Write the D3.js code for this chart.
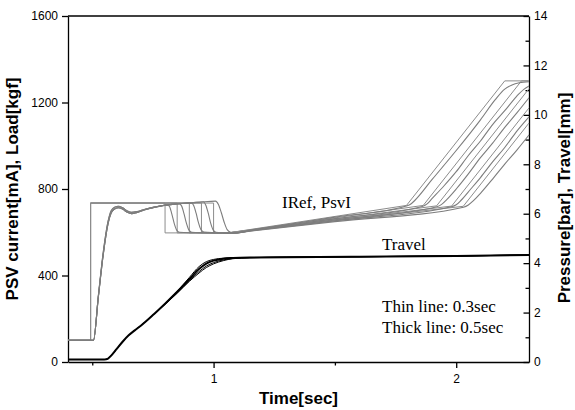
<!DOCTYPE html>
<html>
<head>
<meta charset="utf-8">
<script src="https://cdn.jsdelivr.net/npm/d3@7"></script>
<style>
body { margin: 0; background: #fff; }
svg { display: block; }
.axis text { font-family: "Liberation Sans", Arial, sans-serif; font-size: 12px; fill: #000; }
.axis path, .axis line { stroke: #000; stroke-width: 1.3px; }
.note { font-family: "Liberation Serif", "Times New Roman", serif; font-size: 17px; fill: #000; }
.title { font-family: "Liberation Sans", Arial, sans-serif; font-weight: bold; font-size: 17px; fill: #000; }
</style>
</head>
<body>
<svg id="chart" width="575" height="410"></svg>
<script>
// reference current IRef per run [time(sec), mA]
var iref1 = [[0.4,100],[0.493,100],[0.493,735],[0.80,735],[0.80,597],[1.06,597],[1.795,724],[2.20,1300],[2.3,1300]];
var iref2 = [[0.4,100],[0.493,100],[0.493,735],[0.85,735],[0.85,597],[1.06,597],[1.864,724],[2.269,1300],[2.3,1300]];
var iref3 = [[0.4,100],[0.493,100],[0.493,735],[0.90,735],[0.90,597],[1.06,597],[1.919,722],[2.3,1264]];
var iref4 = [[0.4,100],[0.493,100],[0.493,735],[0.95,735],[0.95,597],[1.06,597],[1.981,721],[2.3,1175]];
var iref5 = [[0.4,100],[0.493,100],[0.493,735],[1.00,735],[1.00,597],[1.06,597],[2.029,720],[2.3,1105]];

// measured PSV current PsvI per run
var psv1 = [[0.4,100],[0.505,100],[0.525,300],[0.545,495],[0.565,640],[0.578,690],[0.592,708],[0.608,713],[0.625,707],[0.645,692],[0.662,686],[0.685,692],[0.71,702],[0.75,714],[0.79,723],[0.808,727],
  [0.818,720],[0.828,684],[0.838,640],[0.848,610],[0.86,600],[0.9,598],[1.0,597],[1.08,596],[1.15,609],[1.5,670],[1.79,720],[1.81,728],[1.83,748],[1.9,843],[2.0,978],[2.1,1120],[2.16,1212],[2.2,1262],[2.23,1281],[2.26,1291],[2.3,1296]];
var psv2 = [[0.4,100],[0.505,100],[0.525,305],[0.545,505],[0.565,650],[0.578,700],[0.592,716],[0.608,720],[0.625,713],[0.645,698],[0.662,692],[0.685,696],[0.71,704],[0.75,715],[0.79,724],[0.83,729],[0.858,732],
  [0.868,722],[0.878,686],[0.888,642],[0.898,611],[0.91,600],[0.95,598],[1.08,596],[1.15,608],[1.5,663],[1.86,719],[1.88,731],[1.90,755],[1.95,815],[2.0,880],[2.05,955],[2.1,1022],[2.15,1098],[2.2,1162],[2.25,1230],[2.28,1262],[2.3,1276]];
var psv3 = [[0.4,100],[0.505,100],[0.525,300],[0.545,495],[0.565,640],[0.578,690],[0.592,708],[0.608,713],[0.625,707],[0.645,692],[0.662,686],[0.685,692],[0.71,702],[0.75,714],[0.79,723],[0.83,729],[0.87,733],[0.908,736],
  [0.918,724],[0.928,688],[0.938,643],[0.948,612],[0.96,601],[1.0,598],[1.08,596],[1.15,607],[1.5,658],[1.92,718],[1.94,729],[1.96,750],[2.0,800],[2.05,870],[2.1,945],[2.15,1012],[2.2,1085],[2.25,1152],[2.3,1222]];
var psv4 = [[0.4,100],[0.505,100],[0.525,305],[0.545,505],[0.565,650],[0.578,700],[0.592,716],[0.608,720],[0.625,713],[0.645,698],[0.662,692],[0.685,696],[0.71,704],[0.75,715],[0.79,724],[0.83,729],[0.87,733],[0.91,736],[0.958,741],
  [0.968,725],[0.978,688],[0.988,642],[0.998,611],[1.01,600],[1.05,598],[1.08,596],[1.15,606],[1.5,653],[1.98,718],[2.0,727],[2.02,748],[2.06,800],[2.1,853],[2.15,925],[2.2,992],[2.25,1068],[2.3,1134]];
var psv5 = [[0.4,100],[0.505,100],[0.525,300],[0.545,495],[0.565,640],[0.578,690],[0.592,708],[0.608,713],[0.625,707],[0.645,692],[0.662,686],[0.685,692],[0.71,702],[0.75,714],[0.79,723],[0.83,729],[0.87,733],[0.91,736],[0.95,740],[1.008,744],
  [1.02,728],[1.032,690],[1.044,645],[1.056,612],[1.07,600],[1.09,597],[1.15,605],[1.5,649],[2.03,716],[2.05,726],[2.07,745],[2.1,780],[2.15,846],[2.2,915],[2.25,980],[2.3,1050]];

// travel [time(sec), mm]
var travelThick = [[0.4,0.1],[0.55,0.1],[0.565,0.14],[0.58,0.28],[0.60,0.52],[0.625,0.82],[0.65,1.08],[0.675,1.28],[0.70,1.47],[0.75,1.9],[0.80,2.36],[0.85,2.84],[0.90,3.35],[0.94,3.76],[0.97,3.98],[1.0,4.1],[1.04,4.18],[1.08,4.21],[1.15,4.23],[1.3,4.24],[1.6,4.26],[2.0,4.29],[2.3,4.33]];
var travelThin1 = [[0.4,0.1],[0.55,0.1],[0.565,0.14],[0.58,0.28],[0.60,0.52],[0.625,0.82],[0.65,1.08],[0.675,1.28],[0.70,1.47],[0.75,1.9],[0.80,2.36],[0.85,2.86],[0.90,3.42],[0.94,3.86],[0.97,4.06],[1.0,4.15],[1.04,4.2],[1.1,4.22],[1.3,4.24],[1.6,4.26],[2.0,4.29],[2.3,4.33]];
var travelThin2 = [[0.4,0.1],[0.55,0.1],[0.565,0.14],[0.58,0.28],[0.60,0.52],[0.625,0.82],[0.65,1.08],[0.675,1.28],[0.70,1.47],[0.75,1.9],[0.80,2.34],[0.85,2.8],[0.90,3.3],[0.94,3.66],[0.97,3.88],[1.0,4.02],[1.04,4.13],[1.08,4.19],[1.15,4.22],[1.3,4.24],[1.6,4.26],[2.0,4.29],[2.3,4.33]];
var travelThin3 = [[0.4,0.1],[0.55,0.1],[0.565,0.14],[0.58,0.28],[0.60,0.52],[0.625,0.82],[0.65,1.08],[0.675,1.28],[0.70,1.47],[0.75,1.9],[0.80,2.33],[0.85,2.78],[0.90,3.26],[0.94,3.6],[0.97,3.82],[1.0,3.97],[1.04,4.1],[1.08,4.18],[1.15,4.22],[1.3,4.24],[1.6,4.26],[2.0,4.29],[2.3,4.33]];

var leftTicks = [0, 400, 800, 1200, 1600];
var rightTicks = [0, 2, 4, 6, 8, 10, 12, 14];
var rightMinor = [1, 3, 5, 7, 9, 11, 13];
var timeTicks = [1, 2];
var timeMinor = [0.5, 1.5];

var plotLeft = 68, plotRight = 529, plotTop = 16, plotBottom = 362;

var svg = d3.select("#chart");

var x = d3.scaleLinear().domain([0.4, 2.3]).range([plotLeft, plotRight]);
var yLeft = d3.scaleLinear().domain([0, 1600]).range([plotBottom, plotTop]);
var yRight = d3.scaleLinear().domain([0, 14]).range([plotBottom, plotTop]);

// frame top line
svg.append("line")
    .attr("x1", plotLeft).attr("x2", plotRight)
    .attr("y1", plotTop).attr("y2", plotTop)
    .attr("stroke", "#000").attr("stroke-width", 1.3);

// axes
svg.append("g").attr("class", "axis")
    .attr("transform", "translate(" + plotLeft + ",0)")
    .call(d3.axisLeft(yLeft).tickValues(leftTicks).tickSize(6).tickSizeOuter(0).tickPadding(4).tickFormat(d3.format("d")));

svg.append("g").attr("class", "axis")
    .attr("transform", "translate(0," + plotBottom + ")")
    .call(d3.axisBottom(x).tickValues(timeTicks).tickSize(6).tickSizeOuter(0).tickPadding(6).tickFormat(d3.format("d")));
svg.append("g").attr("class", "axis")
    .attr("transform", "translate(0," + plotBottom + ")")
    .call(d3.axisBottom(x).tickValues(timeMinor).tickSize(3.5).tickSizeOuter(0).tickFormat(""))
    .select(".domain").remove();

svg.append("g").attr("class", "axis")
    .attr("transform", "translate(" + plotRight + ",0)")
    .call(d3.axisRight(yRight).tickValues(rightTicks).tickSize(-5.5).tickSizeOuter(0).tickPadding(5));
svg.append("g").attr("class", "axis")
    .attr("transform", "translate(" + plotRight + ",0)")
    .call(d3.axisRight(yRight).tickValues(rightMinor).tickSize(-3.5).tickSizeOuter(0).tickFormat(""))
    .select(".domain").remove();

// curves
var lineL = d3.line().x(d => x(d[0])).y(d => yLeft(d[1]));
var curveL = d3.line().curve(d3.curveMonotoneX).x(d => x(d[0])).y(d => yLeft(d[1]));
var curveR = d3.line().curve(d3.curveMonotoneX).x(d => x(d[0])).y(d => yRight(d[1]));

[iref1, iref2, iref3, iref4, iref5].forEach(function (s) {
    svg.append("path").attr("d", lineL(s))
        .attr("fill", "none").attr("stroke", "#8c8c8c").attr("stroke-width", 1);
});
[psv1, psv2, psv3, psv4, psv5].forEach(function (s) {
    svg.append("path").attr("d", curveL(s))
        .attr("fill", "none").attr("stroke", "#7d7d7d").attr("stroke-width", 1.1);
});

[travelThin1, travelThin2, travelThin3].forEach(function (s) {
    svg.append("path").attr("d", curveR(s))
        .attr("fill", "none").attr("stroke", "#000").attr("stroke-width", 1);
});
svg.append("path").attr("d", curveR(travelThick))
    .attr("fill", "none").attr("stroke", "#000").attr("stroke-width", 2);

// notes
svg.append("text").attr("class", "note").attr("x", 282).attr("y", 208).text("IRef, PsvI");
svg.append("text").attr("class", "note").attr("x", 382).attr("y", 250).text("Travel");
svg.append("text").attr("class", "note").attr("x", 382).attr("y", 312).text("Thin line: 0.3sec");
svg.append("text").attr("class", "note").attr("x", 382).attr("y", 333).text("Thick line: 0.5sec");

// axis titles
svg.append("text").attr("class", "title")
    .attr("x", (plotLeft + plotRight) / 2).attr("y", 404)
    .attr("text-anchor", "middle").text("Time[sec]");
svg.append("text").attr("class", "title")
    .attr("transform", "translate(18," + ((plotTop + plotBottom) / 2) + ") rotate(-90)")
    .attr("text-anchor", "middle").text("PSV current[mA], Load[kgf]");
svg.append("text").attr("class", "title")
    .attr("transform", "translate(570,198) rotate(-90)")
    .attr("text-anchor", "middle").text("Pressure[bar], Travel[mm]");
</script>
</body>
</html>
